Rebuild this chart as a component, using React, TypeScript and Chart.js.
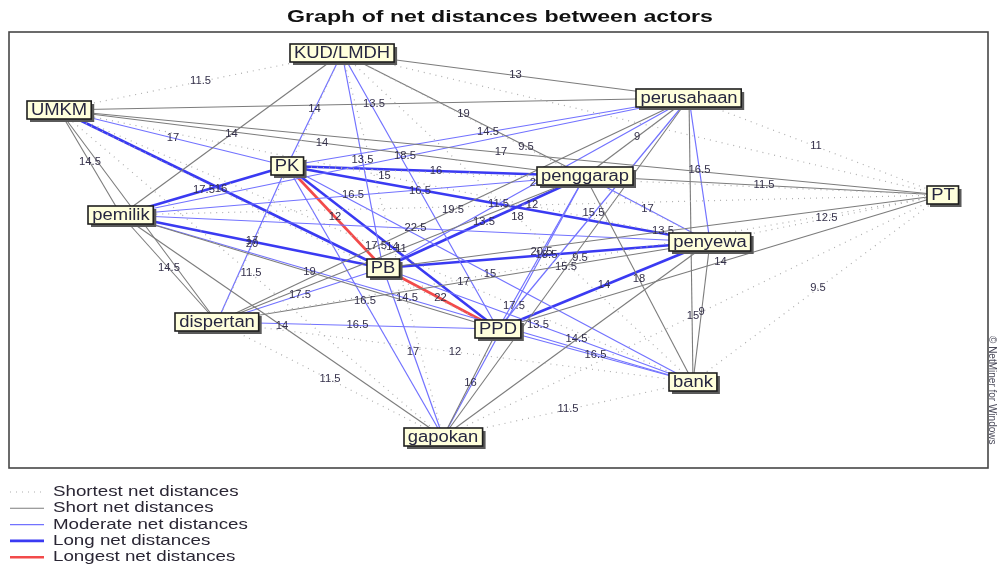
import React, { useEffect, useRef } from "react";
import { Chart, registerables } from "chart.js";

Chart.register(...registerables);

// ---- data ----
const titleText = "Graph of net distances between actors";
const nodeNames = ["KUD/LMDH", "UMKM", "perusahaan", "PK", "penggarap", "PT", "pemilik", "penyewa", "PB", "dispertan", "PPD", "bank", "gapokan"];
// layout coordinates of the actors (network layout space)
const nodeX = [342, 59, 689, 287, 585, 943, 121, 710, 383, 217, 498, 693, 443];
const nodeY = [53, 110, 98, 166, 176, 195, 215, 242, 268, 322, 329, 382, 437];

const legendLabels = ["Shortest net distances", "Short net distances", "Moderate net distances", "Long net distances", "Longest net distances"];

// [from, to, class (0 shortest .. 4 longest), net distance label]
const edges: [string, string, number, string | null][] = [
  ["KUD/LMDH", "UMKM", 0, "11.5"],
  ["KUD/LMDH", "perusahaan", 1, "13"],
  ["KUD/LMDH", "PK", 2, "14"],
  ["KUD/LMDH", "penggarap", 1, "19"],
  ["KUD/LMDH", "PT", 0, null],
  ["KUD/LMDH", "pemilik", 1, "14"],
  ["KUD/LMDH", "penyewa", 0, "9.5"],
  ["KUD/LMDH", "PB", 2, "13.5"],
  ["KUD/LMDH", "dispertan", 0, null],
  ["KUD/LMDH", "PPD", 2, "16.5"],
  ["KUD/LMDH", "bank", 0, "18"],
  ["KUD/LMDH", "gapokan", 0, null],
  ["UMKM", "perusahaan", 1, "13.5"],
  ["UMKM", "PK", 2, "17"],
  ["UMKM", "penggarap", 1, "14"],
  ["UMKM", "PT", 1, "17"],
  ["UMKM", "pemilik", 1, "14.5"],
  ["UMKM", "penyewa", 0, "15"],
  ["UMKM", "PB", 3, "16"],
  ["UMKM", "dispertan", 1, "14.5"],
  ["UMKM", "PPD", 0, null],
  ["UMKM", "bank", 0, "17.5"],
  ["UMKM", "gapokan", 0, "11.5"],
  ["perusahaan", "PK", 2, "14.5"],
  ["perusahaan", "penggarap", 1, "9"],
  ["perusahaan", "PT", 0, "11"],
  ["perusahaan", "pemilik", 2, "18.5"],
  ["perusahaan", "penyewa", 2, "16.5"],
  ["perusahaan", "PB", 2, "20"],
  ["perusahaan", "dispertan", 1, "19.5"],
  ["perusahaan", "PPD", 2, "15.5"],
  ["perusahaan", "bank", 1, null],
  ["perusahaan", "gapokan", 1, "15.5"],
  ["PK", "penggarap", 3, "16"],
  ["PK", "PT", 0, "14.5"],
  ["PK", "pemilik", 3, "17.5"],
  ["PK", "penyewa", 3, "11.5"],
  ["PK", "PB", 4, "12"],
  ["PK", "dispertan", 2, "20"],
  ["PK", "PPD", 3, "14"],
  ["PK", "bank", 2, "15"],
  ["PK", "gapokan", 2, "16.5"],
  ["penggarap", "PT", 1, "11.5"],
  ["penggarap", "pemilik", 2, "16.5"],
  ["penggarap", "penyewa", 2, "17"],
  ["penggarap", "PB", 3, "13.5"],
  ["penggarap", "dispertan", 1, "11"],
  ["penggarap", "PPD", 2, "20.5"],
  ["penggarap", "bank", 1, "18"],
  ["penggarap", "gapokan", 2, "17.5"],
  ["PT", "pemilik", 0, "12"],
  ["PT", "penyewa", 0, "12.5"],
  ["PT", "PB", 1, "13.5"],
  ["PT", "dispertan", 0, "9.5"],
  ["PT", "PPD", 1, "14"],
  ["PT", "bank", 0, "9.5"],
  ["PT", "gapokan", 0, "15"],
  ["pemilik", "penyewa", 2, "22.5"],
  ["pemilik", "PB", 3, "17"],
  ["pemilik", "dispertan", 1, "14.5"],
  ["pemilik", "PPD", 1, "19"],
  ["pemilik", "bank", 2, "14.5"],
  ["pemilik", "gapokan", 1, "14"],
  ["penyewa", "PB", 3, "18.5"],
  ["penyewa", "dispertan", 1, "17"],
  ["penyewa", "PPD", 3, "14"],
  ["penyewa", "bank", 1, "9"],
  ["penyewa", "gapokan", 1, "14.5"],
  ["PB", "dispertan", 2, "17.5"],
  ["PB", "PPD", 4, "22"],
  ["PB", "bank", 2, "13.5"],
  ["PB", "gapokan", 2, "17"],
  ["dispertan", "PPD", 2, "16.5"],
  ["dispertan", "bank", 0, "12"],
  ["dispertan", "gapokan", 0, "11.5"],
  ["PPD", "bank", 2, "16.5"],
  ["PPD", "gapokan", 1, "16"],
  ["bank", "gapokan", 0, "11.5"],
];

// ---- styles ----
const classStyle = [
  { color: "#aeaeae", width: 1.2, dash: [1, 5] },
  { color: "#7c7c7c", width: 1.1, dash: [] as number[] },
  { color: "#7272ff", width: 1.2, dash: [] as number[] },
  { color: "#3a3af2", width: 2.6, dash: [] as number[] },
  { color: "#f24a4a", width: 2.6, dash: [] as number[] },
];

function idx(name: string) {
  return nodeNames.indexOf(name);
}

const overlayPlugin = {
  id: "netOverlay",
  beforeDraw(chart: any) {
    const ctx = chart.ctx;
    ctx.save();
    ctx.fillStyle = "#ffffff";
    ctx.fillRect(0, 0, chart.width, chart.height);
    ctx.restore();
  },
  afterDatasetsDraw(chart: any) {
    const ctx: CanvasRenderingContext2D = chart.ctx;
    const xs = chart.scales.x;
    const ys = chart.scales.y;
    const area = chart.chartArea;

    // edge labels
    ctx.save();
    ctx.beginPath();
    ctx.rect(area.left, area.top, area.right - area.left, area.bottom - area.top);
    ctx.clip();
    ctx.font = "10px Arial, 'Liberation Sans', sans-serif";
    ctx.fillStyle = "#34304a";
    ctx.textAlign = "center";
    ctx.textBaseline = "middle";
    edges.forEach((e) => {
      if (!e[3]) return;
      const a = idx(e[0]);
      const b = idx(e[1]);
      const mx = (nodeX[a] + nodeX[b]) / 2;
      const my = (nodeY[a] + nodeY[b]) / 2;
      const px = xs.getPixelForValue(mx);
      const py = ys.getPixelForValue(my);
      ctx.save();
      ctx.translate(px, py);
      ctx.scale(1.12, 1);
      ctx.fillText(e[3], 0, 0);
      ctx.restore();
    });
    ctx.restore();

    // nodes
    ctx.save();
    ctx.font = "16px Arial, 'Liberation Sans', sans-serif";
    ctx.textAlign = "center";
    ctx.textBaseline = "middle";
    const sx = 1.15;
    nodeNames.forEach((n, i) => {
      const px = xs.getPixelForValue(nodeX[i]);
      const py = ys.getPixelForValue(nodeY[i]);
      const w = ctx.measureText(n).width * sx + 8;
      const h = 18;
      const l = Math.round(px - w / 2);
      const t = Math.round(py - h / 2);
      ctx.fillStyle = "#5a5a5a";
      ctx.fillRect(l + 3, t + 3, w, h);
      ctx.fillStyle = "#ffffdc";
      ctx.fillRect(l, t, w, h);
      ctx.lineWidth = 1.6;
      ctx.strokeStyle = "#1e1e1e";
      ctx.strokeRect(l, t, w, h);
      ctx.save();
      ctx.translate(px, py + 1);
      ctx.scale(sx, 1);
      ctx.fillStyle = "#262640";
      ctx.fillText(n, 0, 0);
      ctx.restore();
    });
    ctx.restore();

    // frame
    ctx.save();
    ctx.strokeStyle = "#474747";
    ctx.lineWidth = 1.6;
    ctx.strokeRect(area.left, area.top, area.right - area.left, area.bottom - area.top);
    ctx.restore();

    // title
    ctx.save();
    ctx.font = "bold 17px Arial, 'Liberation Sans', sans-serif";
    ctx.fillStyle = "#111111";
    ctx.textAlign = "center";
    ctx.textBaseline = "alphabetic";
    const tw = ctx.measureText(titleText).width;
    ctx.translate(500, 22);
    ctx.scale(426 / tw, 1);
    ctx.fillText(titleText, 0, 0);
    ctx.restore();

    // legend
    ctx.save();
    ctx.font = "15px Arial, 'Liberation Sans', sans-serif";
    ctx.textBaseline = "middle";
    ctx.textAlign = "left";
    legendLabels.forEach((lab, i) => {
      const st = classStyle[i];
      const y = 492 + i * 16.3;
      ctx.beginPath();
      ctx.strokeStyle = st.color;
      ctx.lineWidth = st.width;
      ctx.setLineDash(st.dash);
      ctx.moveTo(10, y);
      ctx.lineTo(44, y);
      ctx.stroke();
      ctx.setLineDash([]);
      ctx.save();
      ctx.translate(53, y);
      ctx.scale(1.25, 1);
      ctx.fillStyle = "#2a2634";
      ctx.fillText(lab, 0, 0);
      ctx.restore();
    });
    ctx.restore();

    // vertical credit text
    ctx.save();
    ctx.font = "10px Arial, 'Liberation Sans', sans-serif";
    ctx.fillStyle = "#4a4a5a";
    ctx.translate(992, 336);
    ctx.rotate(Math.PI / 2);
    ctx.textBaseline = "middle";
    ctx.fillText("© NetMiner for Windows", 0, 0);
    ctx.restore();
  },
};

export default function App() {
  const ref = useRef<HTMLCanvasElement | null>(null);
  useEffect(() => {
    document.body.style.margin = "0";
    if (!ref.current) return;
    const datasets: any[] = [];
    [0, 1, 2, 3, 4].forEach((cls) => {
      edges.forEach((e) => {
        if (e[2] !== cls) return;
        const a = idx(e[0]);
        const b = idx(e[1]);
        const st = classStyle[cls];
        datasets.push({
          label: e[0] + "-" + e[1],
          data: [
            { x: nodeX[a], y: nodeY[a] },
            { x: nodeX[b], y: nodeY[b] },
          ],
          showLine: true,
          borderColor: st.color,
          backgroundColor: st.color,
          borderWidth: st.width,
          borderDash: st.dash,
          pointRadius: 0,
          pointHoverRadius: 0,
          tension: 0,
          fill: false,
        });
      });
    });
    const chart = new Chart(ref.current, {
      type: "scatter",
      data: { datasets },
      options: {
        animation: false,
        responsive: false,
        events: [],
        layout: { padding: { left: 9, right: 11, top: 32, bottom: 99 } },
        plugins: {
          legend: { display: false },
          title: { display: false },
          tooltip: { enabled: false },
        },
        scales: {
          x: { type: "linear", min: 9, max: 988, display: false },
          y: { type: "linear", min: 32, max: 468, reverse: true, display: false },
        },
      },
      plugins: [overlayPlugin],
    });
    return () => chart.destroy();
  }, []);
  return <canvas ref={ref} width={999} height={567} style={{ display: "block" }} />;
}
